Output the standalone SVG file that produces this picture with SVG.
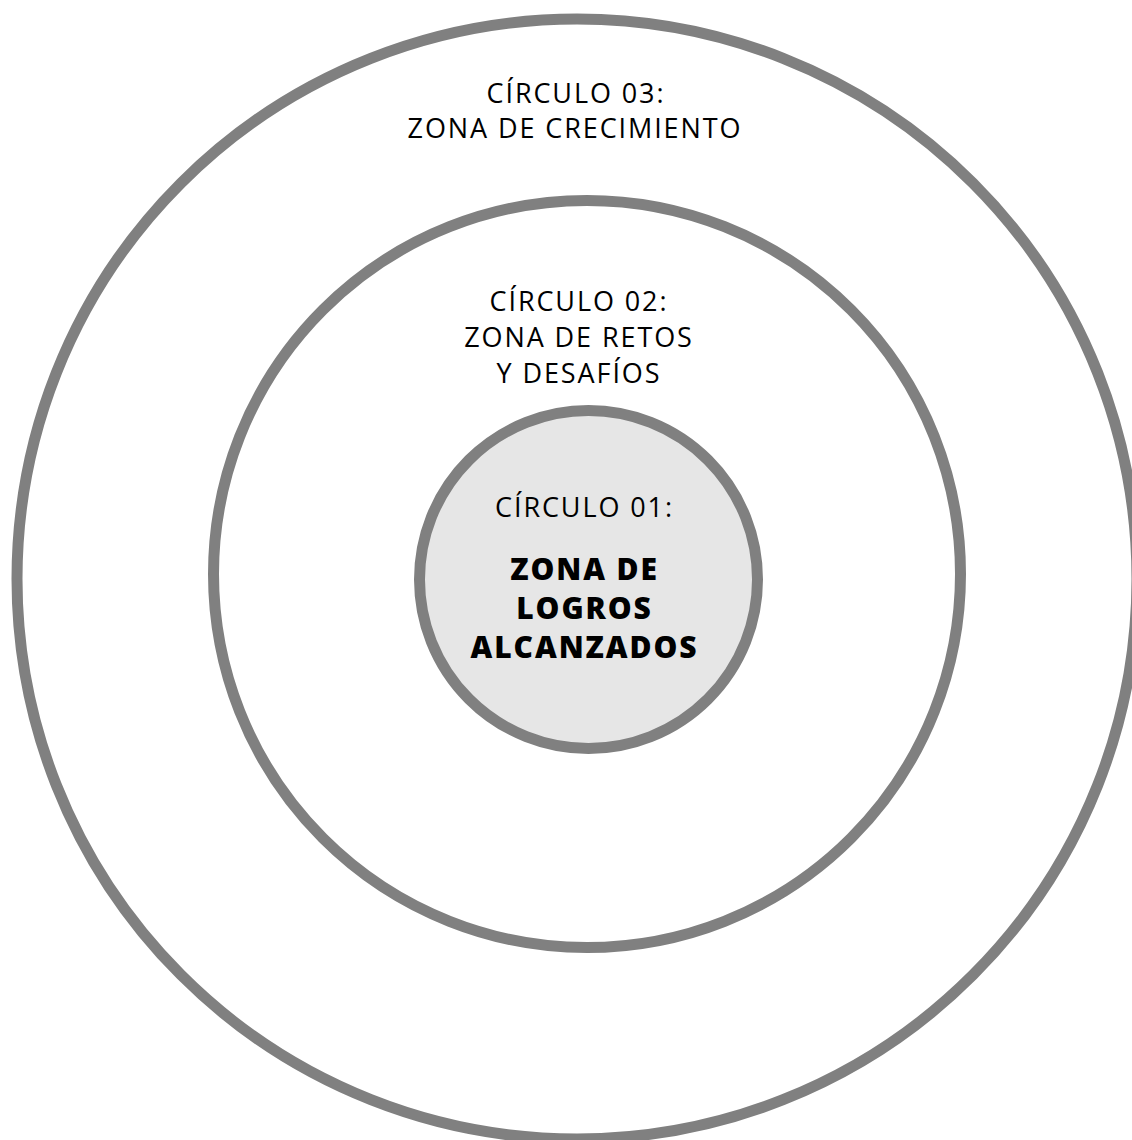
<svg xmlns="http://www.w3.org/2000/svg" width="1132" height="1140" viewBox="0 0 1132 1140">
<style>
.ring{fill:none;stroke:#808080;stroke-width:11}
.core{fill:#e6e6e6;stroke:#808080;stroke-width:11}
.t{font-family:"Open Sans",Lato,"Liberation Sans",sans-serif;font-size:27px;font-weight:400;letter-spacing:1.9px;fill:#000;text-anchor:middle}
.b{font-family:"Open Sans",Lato,"Liberation Sans",sans-serif;font-size:30px;font-weight:800;letter-spacing:1.9px;fill:#000;text-anchor:middle}
</style>
<rect width="1132" height="1140" fill="#fff"/>
<g id="circulo03">
<circle class="ring" cx="577" cy="579" r="560"/>
<text class="t" x="576" y="103">CÍRCULO 03:</text>
<text class="t" x="575" y="138">ZONA DE CRECIMIENTO</text>
</g>
<g id="circulo02">
<circle class="ring" cx="587" cy="574" r="373.5"/>
<text class="t" x="579" y="311">CÍRCULO 02:</text>
<text class="t" x="579" y="347">ZONA DE RETOS</text>
<text class="t" x="579" y="383">Y DESAFÍOS</text>
</g>
<g id="circulo01">
<circle class="core" cx="588.5" cy="579.5" r="169"/>
<text class="t" x="584.5" y="517">CÍRCULO 01:</text>
<text class="b" x="584.5" y="580">ZONA DE</text>
<text class="b" x="584.5" y="619">LOGROS</text>
<text class="b" x="584.5" y="658">ALCANZADOS</text>
</g>
<g id="connectors"/>
</svg>
